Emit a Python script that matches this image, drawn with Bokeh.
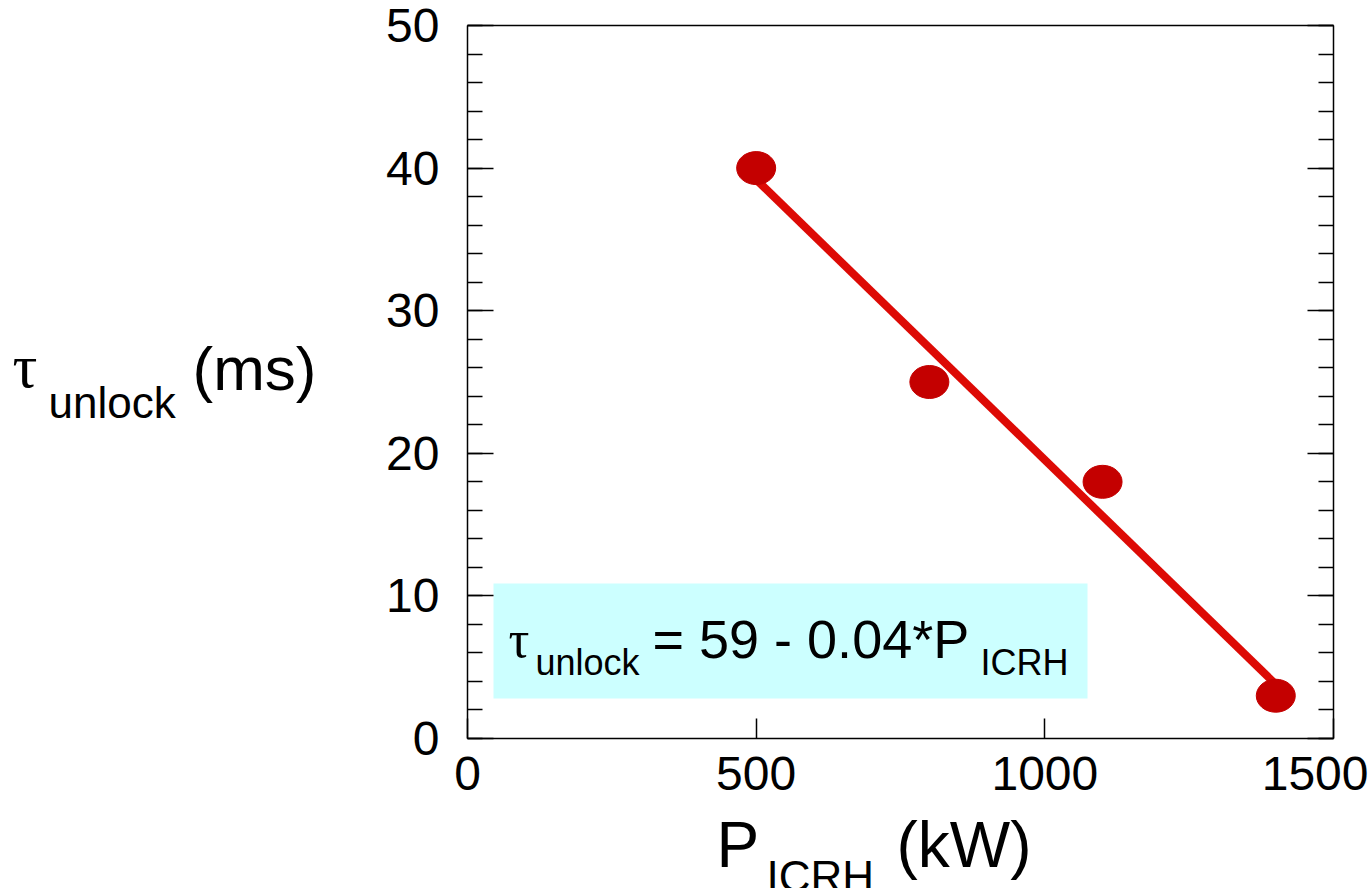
import numpy as np
from bokeh.plotting import figure
from bokeh.models import (Label, BoxAnnotation, LinearAxis, SingleIntervalTicker,
                          FixedTicker, Range1d, CustomJSTickFormatter)
from bokeh.embed import file_html
from bokeh.resources import INLINE

# ---- data ----
p_icrh = [500, 800, 1100, 1400]          # kW
tau_unlock = [40, 25, 18, 3]             # ms
x_ticks = [0, 500, 1000, 1500]
x_lim = (0, 1500)
y_lim = (0, 50)
y_interval = 10

# ---- layout constants (pixels) ----
W, H = 1368, 888
FL, FR, FT, FB = 467, 1333, 25, 738


def dx(px):
    return x_lim[0] + (px - FL) / (FR - FL) * (x_lim[1] - x_lim[0])


def dy(py):
    return y_lim[0] + (FB - py) / (FB - FT) * (y_lim[1] - y_lim[0])


# frame covers the whole canvas; axes are pinned at the data box edges
p = figure(width=W, height=H,
           x_range=Range1d(dx(0), dx(W)), y_range=Range1d(dy(H), dy(0)),
           output_backend="svg", toolbar_location=None,
           min_border_left=0, min_border_right=0, min_border_top=0,
           min_border_bottom=0, x_axis_type=None, y_axis_type=None)
p.grid.visible = False
p.outline_line_color = None
p.background_fill_color = "white"
p.border_fill_color = "white"

FONT = "Liberation Sans"
blank = CustomJSTickFormatter(code="return ''")


def style_axis(ax, tin, minin, labels=True):
    ax.major_tick_in = tin
    ax.major_tick_out = 0
    ax.minor_tick_in = minin
    ax.minor_tick_out = 0
    ax.axis_line_color = "black"
    ax.axis_line_width = 1.5
    ax.major_tick_line_color = "black"
    ax.minor_tick_line_color = "black"
    ax.major_tick_line_width = 1.5
    ax.minor_tick_line_width = 1.5
    if labels:
        ax.major_label_text_font_size = "48px"
        ax.major_label_text_font = FONT
        ax.major_label_text_color = "black"
    else:
        ax.formatter = blank


xb = LinearAxis(ticker=FixedTicker(ticks=x_ticks, minor_ticks=[]),
                fixed_location=y_lim[0], bounds=x_lim)
style_axis(xb, 20, 0)
xb.major_label_standoff = 18
p.add_layout(xb, "below")

xt = LinearAxis(ticker=FixedTicker(ticks=[], minor_ticks=[]),
                fixed_location=y_lim[1], bounds=x_lim)
style_axis(xt, 0, 0, labels=False)
p.add_layout(xt, "above")

yl = LinearAxis(ticker=SingleIntervalTicker(interval=y_interval, num_minor_ticks=5),
                fixed_location=x_lim[0], bounds=y_lim)
style_axis(yl, 26, 15)
yl.major_label_standoff = 28
p.add_layout(yl, "left")

yr = LinearAxis(ticker=SingleIntervalTicker(interval=y_interval, num_minor_ticks=5),
                fixed_location=x_lim[1], bounds=y_lim)
style_axis(yr, 26, 15, labels=False)
p.add_layout(yr, "right")

# equation box
box = BoxAnnotation(left=dx(493), right=dx(1087), bottom=dy(698), top=dy(583),
                    fill_color="#ccffff", fill_alpha=1.0, line_color=None,
                    level="underlay")
p.add_layout(box)

# linear fit
coef = np.polyfit(p_icrh, tau_unlock, 1)
fx = np.array([min(p_icrh), max(p_icrh)])
fy = np.polyval(coef, fx)
p.line(fx, fy, line_color="#dd0a05", line_width=8, line_cap="butt")

# data points
p.ellipse(x=p_icrh, y=tau_unlock, width=39, height=33,
          width_units="screen", height_units="screen",
          fill_color="#c40000", line_color="#c40000")


def lab(text, px, py, size, font=FONT):
    # py is the wanted baseline (pixels from top); correct for renderer offset
    base = py - 0.43 * size
    p.add_layout(Label(x=dx(px), y=dy(base), text=text, text_font_size=f"{size}px",
                       text_font=font, text_color="black", text_align="left",
                       text_baseline="alphabetic"))


# equation text
lab("\u03c4", 508, 661, 52, "Liberation Serif")
lab("unlock", 535, 677, 36)
lab("= 59 - 0.04*P", 652, 662, 54)
lab("ICRH", 980, 677, 36)

# y-axis title
lab("\u03c4", 12, 392, 62, "Liberation Serif")
lab("unlock", 48, 421, 44)
lab("(ms)", 192, 395, 62)

# x-axis title
lab("P", 716, 872, 64)
lab("ICRH", 766, 895, 44)
lab("(kW)", 896, 872, 64)

open("out.html", "w").write(file_html(p, INLINE))
